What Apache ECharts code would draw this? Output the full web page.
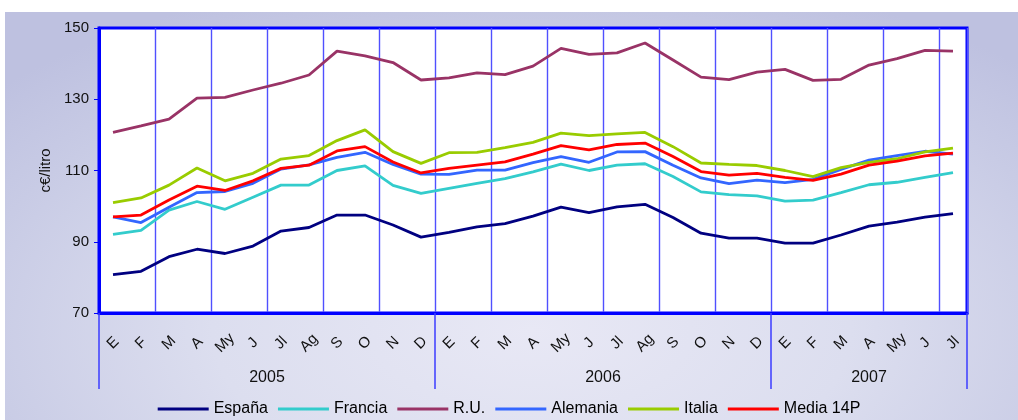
<!DOCTYPE html>
<html>
<head>
<meta charset="utf-8">
<script src="https://cdn.jsdelivr.net/npm/echarts@6/dist/echarts.min.js"></script>
<style>
  html, body { margin: 0; padding: 0; background: #ffffff; }
  #wrap { position: relative; width: 1018px; height: 420px; overflow: hidden; background: #ffffff; }
  #bg { position: absolute; left: 5px; top: 12px; width: 1013px; height: 408px;
        background: radial-gradient(ellipse 70% 90% at 52% 78%, #e8e8f5 0%, #dcdeef 45%, #c8cbe5 80%, #bec1e0 100%); }
  #chart { position: absolute; left: 0; top: 0; width: 1018px; height: 420px; }
</style>
</head>
<body>
<div id="wrap">
  <div id="bg"></div>
  <div id="chart"></div>
</div>
<script>
// ---- data ----
const monthNames = ['E','F','M','A','My','J','Jl','Ag','S','O','N','D'];
const years = ['2005','2006','2007'];
const monthsPerYear = [12, 12, 7];
const yTicks = [70, 90, 110, 130, 150];

const espana   = [80.8,81.7,85.8,87.9,86.7,88.8,93.0,94.0,97.5,97.5,94.7,91.3, 92.6,94.2,95.1,97.2,99.7,98.2,99.8,100.5,96.8,92.4,91.0,91.0, 89.6,89.6,91.9,94.4,95.5,96.9,97.9];
const francia  = [92.1,93.2,98.9,101.3,99.1,102.5,105.9,105.9,110.0,111.3,105.8,103.6, 105.0,106.4,107.7,109.6,111.8,110.0,111.5,111.9,108.3,104.0,103.2,102.9, 101.4,101.7,103.8,106.0,106.7,108.1,109.4];
const ru       = [120.7,122.5,124.4,130.3,130.5,132.6,134.5,136.8,143.5,142.2,140.3,135.4, 136.0,137.4,136.9,139.3,144.3,142.6,143.0,145.8,141.0,136.2,135.5,137.6, 138.4,135.3,135.6,139.6,141.4,143.7,143.5];
const alemania = [97.0,95.4,99.7,103.8,104.1,106.4,110.4,111.6,113.7,115.1,111.7,109.0, 108.9,110.1,110.1,112.2,113.9,112.3,115.2,115.3,111.5,107.9,106.3,107.3, 106.6,107.5,110.3,112.9,114.2,115.4,114.6];
const italia   = [101.0,102.3,105.9,110.7,107.1,109.2,113.2,114.2,118.4,121.4,115.3,112.0, 115.0,115.1,116.4,117.9,120.5,119.8,120.3,120.7,116.7,112.1,111.7,111.4, 110.0,108.3,110.8,112.3,113.3,115.2,116.3];
const media    = [97.0,97.5,101.7,105.6,104.4,107.1,110.6,111.5,115.5,116.7,112.4,109.3, 110.6,111.5,112.4,114.6,117.0,115.8,117.3,117.7,113.9,109.7,108.7,109.2, 108.1,107.2,109.0,111.5,112.6,114.1,114.9];

// ---- derived ----
const categories = [];
monthsPerYear.forEach(n => { for (let i = 0; i < n; i++) categories.push(monthNames[i]); });
const total = categories.length;
const boundaries = [0];
const centers = [];
let acc = 0;
monthsPerYear.forEach(n => { centers.push(acc + n / 2); acc += n; boundaries.push(acc); });

const FONT = '"Liberation Sans", Arial, sans-serif';
const BLUE = '#0000ff';

const seriesDefs = [
  { name: 'España',    data: espana,   color: '#000080' },
  { name: 'Francia',   data: francia,  color: '#33cccc' },
  { name: 'R.U.',      data: ru,       color: '#993366' },
  { name: 'Alemania',  data: alemania, color: '#3366ff' },
  { name: 'Italia',    data: italia,   color: '#99cc00' },
  { name: 'Media 14P', data: media,    color: '#ff0000' }
];

const chart = echarts.init(document.getElementById('chart'), null, { renderer: 'canvas' });
chart.setOption({
  backgroundColor: 'transparent',
  animation: false,
  textStyle: { fontFamily: FONT },
  grid: {
    left: 99, right: 51, top: 28, bottom: 107,
    show: true, backgroundColor: '#ffffff', borderColor: BLUE, borderWidth: 3
  },
  legend: {
    top: 396, left: 'center',
    icon: 'rect', itemWidth: 51, itemHeight: 3, itemGap: 10,
    textStyle: { fontFamily: FONT, fontSize: 16, color: '#000' },
    data: seriesDefs.map(s => s.name)
  },
  xAxis: [
    {
      type: 'category', data: categories, boundaryGap: true,
      axisLine: { show: true, lineStyle: { color: BLUE, width: 3 } },
      axisTick: { show: false },
      splitLine: { show: true, interval: 1, lineStyle: { color: '#5050ff', width: 1.4, opacity: 1 } },
      axisLabel: {
        interval: 0, rotate: 45, align: 'center', verticalAlign: 'middle',
        margin: 30, fontSize: 15, color: '#111', fontFamily: FONT
      }
    },
    {
      type: 'value', min: 0, max: total, position: 'bottom',
      axisLine: { show: false },
      splitLine: { show: false },
      axisTick: { show: true, customValues: boundaries, length: 76, lineStyle: { color: '#3c3cff', width: 1.5 } },
      axisLabel: {
        customValues: centers, margin: 57, fontSize: 16, color: '#111', fontFamily: FONT,
        formatter: v => { const k = centers.indexOf(v); return k >= 0 ? years[k] : ''; }
      }
    }
  ],
  yAxis: {
    type: 'value', min: yTicks[0], max: yTicks[yTicks.length - 1], interval: 20,
    name: 'c€/litro', nameLocation: 'middle', nameGap: 46, nameRotate: 90,
    nameTextStyle: { fontFamily: FONT, fontSize: 15, color: '#111' },
    axisLine: { show: true, lineStyle: { color: BLUE, width: 3 } },
    axisTick: { show: true, length: 5, lineStyle: { color: BLUE, width: 1 } },
    splitLine: { show: false },
    axisLabel: { fontSize: 15, color: '#111', margin: 10, fontFamily: FONT }
  },
  series: seriesDefs.map(s => ({
    name: s.name, type: 'line', data: s.data,
    xAxisIndex: 0, yAxisIndex: 0,
    symbol: 'none', smooth: false,
    lineStyle: { color: s.color, width: 2.8 },
    itemStyle: { color: s.color }
  }))
});
</script>
</body>
</html>
